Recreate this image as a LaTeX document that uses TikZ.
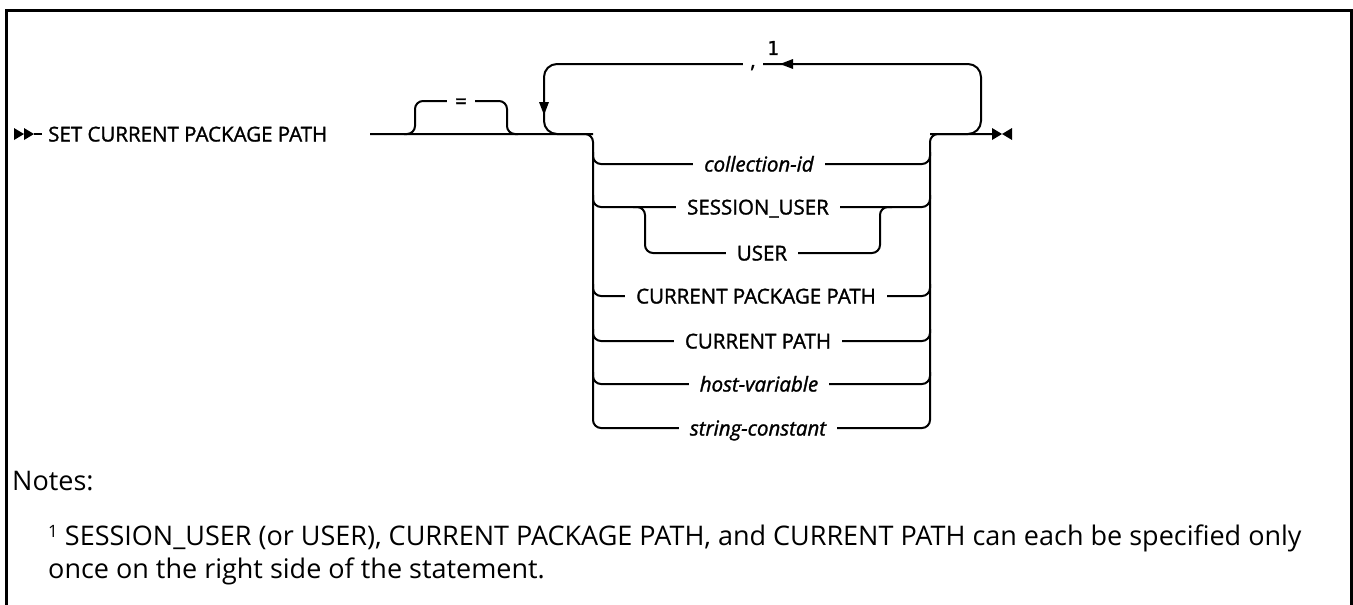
\documentclass[tikz,border=0pt]{standalone}
\usepackage{fontspec}
\setmainfont{Open Sans}
\newfontfamily\lblfont[FakeBold=1.4]{Open Sans}
\newfontfamily\monofont[FakeBold=1.2]{DejaVu Sans Mono}
\begin{document}
\begin{tikzpicture}[x=1pt,y=-1pt,
  rail/.style={line width=2pt, rounded corners=8pt},
  loop/.style={line width=2pt, rounded corners=13pt},
  lbl/.style={font=\lblfont\fontsize{20.5}{24}\selectfont, fill=white, inner xsep=11pt, inner ysep=1pt, text height=15pt, text depth=0pt},
  notefont/.style={font=\fontsize{27}{32}\selectfont, inner sep=0pt, anchor=base west}]
\useasboundingbox (0,0) rectangle (1353,605);
% frame
\draw[line width=3pt] (6.5,640) -- (6.5,10.5) -- (1351,10.5) -- (1351,640);
% start symbol
\fill (14,128) -- (24,134) -- (14,140) -- cycle;
\fill (24,128) -- (34,134) -- (24,140) -- cycle;
\draw[line width=2pt] (34,134) -- (42,134);
\node[font=\lblfont\fontsize{20.5}{24}\selectfont, inner sep=0pt, anchor=west, text height=15pt, text depth=0pt] (stmt) at (48,134) {SET CURRENT PACKAGE PATH};
% repeat loop
\draw[loop] (930,134) -- (981,134) -- (981,64) -- (544,64) -- (544,134) -- (593,134);
\fill (539,102) -- (549,102) -- (544,115) -- cycle;
\fill (793,59) -- (793,69) -- (780,64) -- cycle;
\node[lbl, inner xsep=7pt] (comma) at (753,60) {,};
\node[font=\monofont\fontsize{19}{19}\selectfont, inner sep=0pt] (fn) at (773,48) {1};
% optional =
\draw[rail] (404,134) -- (415,134) -- (415,101) -- (507,101) -- (507,134) -- (518,134);
\node[lbl, inner xsep=8pt] (eq) at (461,101) {=};
% main line and choice column
\draw[rail] (370,134) -- (593,134) -- (593,428) -- (930,428) -- (930,134) -- (992,134);
\foreach \yy in {164,207,296,341,384}{
  \draw[rail] (593,\yy-12) -- (593,\yy) -- (930,\yy) -- (930,\yy-12);
}
\draw[rail] (633,207) -- (645,207) -- (645,253) -- (880,253) -- (880,207) -- (892,207);
\node[lbl] (cid) at (759,164) {\itshape collection-id};
\node[lbl] (su) at (758,207) {SESSION\_USER};
\node[lbl] (us) at (762,253) {USER};
\node[lbl] (cpp) at (756,296) {CURRENT PACKAGE PATH};
\node[lbl] (cp) at (758,341) {CURRENT PATH};
\node[lbl] (hv) at (759,384) {\itshape host-variable};
\node[lbl] (sc) at (758,428) {\itshape string-constant};
% end symbol
\fill (992,128) -- (1002,134) -- (992,140) -- cycle;
\fill (1012,128) -- (1002,134) -- (1012,140) -- cycle;
% notes
\node[notefont] (notes) at (12,490) {Notes:};
\node[notefont] (n1) at (48,545) {\raisebox{8pt}{\fontsize{17}{17}\selectfont 1} SESSION\_USER (or USER), CURRENT PACKAGE PATH, and CURRENT PATH can each be specified only};
\node[notefont] (n2) at (48,578) {once on the right side of the statement.};
\end{tikzpicture}
\end{document}
